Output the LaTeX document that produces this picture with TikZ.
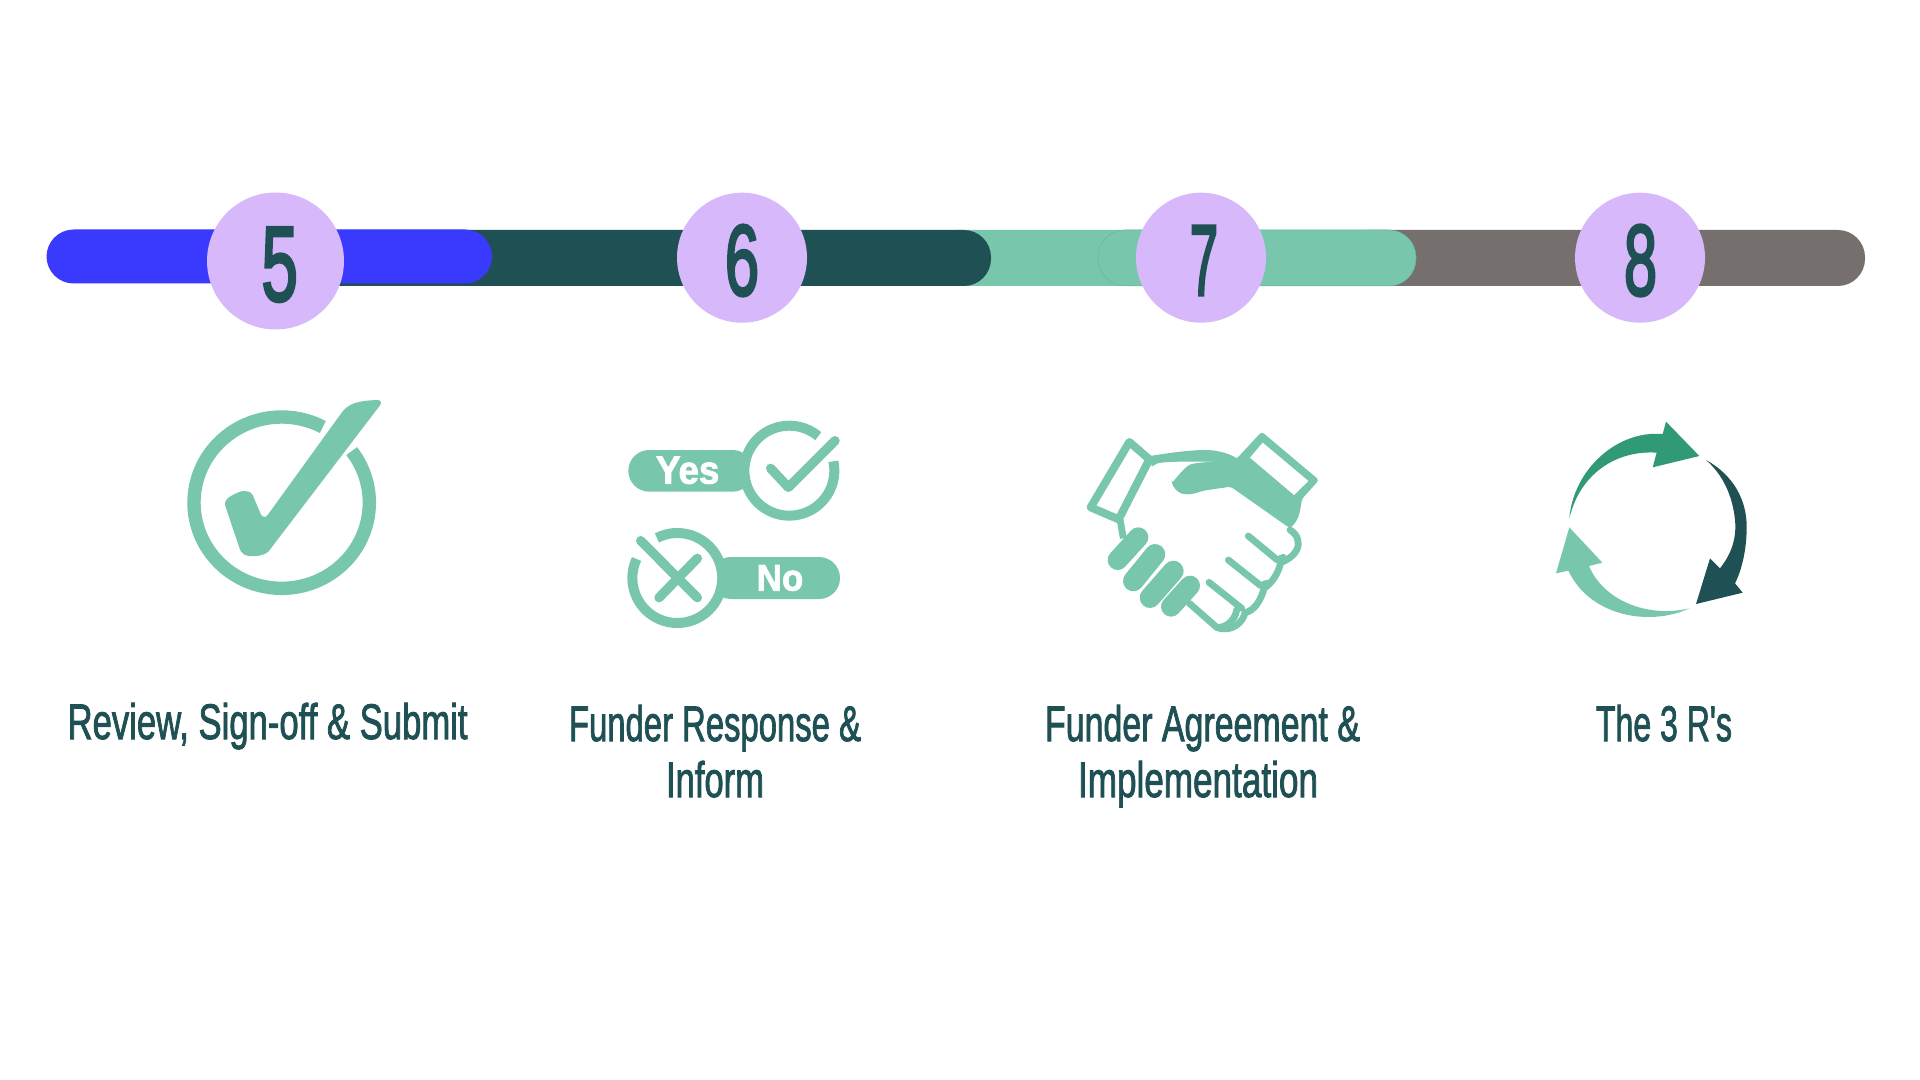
\documentclass[tikz,border=0pt]{standalone}
\usepackage{fontspec}
\usepackage{graphicx}
\setmainfont{Liberation Sans}
\newfontfamily\labelfont[FakeBold=2]{Liberation Sans}
\newfontfamily\digitfont[FakeBold=3.2]{Liberation Sans}
\newfontfamily\pillfont[FakeBold=2]{Liberation Sans Bold}
\definecolor{dkteal}{HTML}{1F5054}
\definecolor{mint}{HTML}{78C7AC}
\definecolor{mintedge}{HTML}{68B59B}
\definecolor{lilac}{HTML}{D7B9FB}
\definecolor{vivid}{HTML}{3A3AFF}
\definecolor{stone}{HTML}{75706E}
\definecolor{midgreen}{HTML}{2F9A75}
\newcommand\fitbox[3]{\resizebox*{#1pt}{#2pt}{#3}}
\newcommand\fitw[2]{\resizebox{#1pt}{\height}{#2}}
\tikzset{
  crop/.style={x=0.166667pt,y=-0.166667pt},
  barpill/.style={rounded corners=13.6pt},
  badge/.style={fill=lilac},
  digit/.style={inner sep=0pt,text=dkteal,font=\digitfont},
  lab/.style={inner sep=0pt,text=dkteal,align=center,anchor=base,font=\labelfont\fontsize{25}{28}\selectfont},
  pilltext/.style={inner sep=0pt,text=white,font=\pillfont},
  handline/.style={mint,line width=3.4pt,line cap=round,line join=round},
}
\begin{document}
\begin{tikzpicture}[x=0.5pt,y=-0.5pt]
\useasboundingbox (0,0) rectangle (1920,1080);
\fill[white] (0,0) rectangle (1920,1080);

% bars
\fill[stone,barpill] (1340,230) rectangle (1865,286);
\fill[mint,barpill] (930,230) rectangle (1200,286);
\fill[mint,barpill,draw=mintedge,line width=0.25pt] (1098,230) rectangle (1416,286);
\fill[dkteal,barpill] (300,230) rectangle (991,286);
\fill[vivid,barpill] (46.5,229.5) rectangle (492,283.5);

% badges
\fill[badge] (275.5,261) circle[radius=68.5];
\fill[badge] (742,257.7) circle[radius=65];
\fill[badge] (1201,257.7) circle[radius=65];
\fill[badge] (1640,257.7) circle[radius=65];
\node[digit] (d5) at (279.7,264.7) {\fitbox{18.2}{37}{5}};
\node[digit] (d6) at (742,260.5) {\fitbox{17.1}{35.5}{6}};
\node[digit] (d7) at (1204,260.5) {\fitbox{14.2}{34.5}{7}};
\node[digit] (d8) at (1640.5,260.5) {\fitbox{16.5}{35.5}{8}};

% check icon
\begin{scope}[shift={(170,390)},crop]
\draw[mint,line width=6.7pt] ([shift={(-37:263 and 257)}]335,338) arc[start angle=-37,end angle=298,x radius=263,y radius=257];
\fill[mint] (165,345) .. controls (163,330) and (175,322) .. (190,314)
  .. controls (210,303) and (235,295) .. (248,315) -- (272,372)
  .. controls (277,382) and (287,384) .. (293,375) -- (515,68)
  .. controls (535,40) and (565,32) .. (622,30)
  .. controls (632,30) and (636,38) .. (630,46) -- (305,472)
  .. controls (295,490) and (280,497) .. (255,498)
  .. controls (225,500) and (215,495) .. (207,470) -- cycle;
\end{scope}

% yes / no icon
\begin{scope}[shift={(620,410)},crop]
\fill[mint,rounded corners=10.4pt] (25,120) rectangle (400,245);
\fill[white] (507,182) circle[radius=120];
\draw[mint,line width=5pt] ([shift={(-12:135)}]508,182) arc[start angle=-12,end angle=310,radius=135];
\draw[mint,line width=4.7pt,line cap=round,line join=round] (452,175) -- (505,232) -- (645,92);
\node[pilltext] (yes) at (203,181) {\fitbox{31.7}{13.7}{Yes}};
\fill[mint,rounded corners=10.5pt] (270,441) rectangle (660,567);
\fill[white] (172,504) circle[radius=120];
\draw[mint,line width=5pt] ([shift={(243:135)}]172,504) arc[start angle=243,end angle=565,radius=135];
\draw[mint,line width=4.7pt,line cap=round] (62,392) -- (232,563);
\draw[mint,line width=4.7pt,line cap=round] (232,445) -- (117,563);
\node[pilltext] (no) at (480,504) {\fitbox{23.3}{13}{No}};
\end{scope}

% handshake icon
\begin{scope}[shift={(1070,420)},crop]
\draw[mint,line width=4pt,line join=round] (178,66) -- (238,118) -- (146,298) -- (62,262) -- cycle;
\draw[mint,line width=3.4pt] (150,298) -- (160,355);
\fill[mint] (240,108) .. controls (320,95) and (400,85) .. (440,93)
  .. controls (470,98) and (490,108) .. (505,118) -- (445,124)
  .. controls (400,126) and (300,122) .. (262,130) -- (245,140) -- cycle;
\fill[mint,rounded corners=1.5pt] (305,190) .. controls (330,160) and (350,135) .. (375,130)
  -- (445,122) -- (500,116) -- (575,35) -- (747,180) -- (695,238)
  .. controls (690,280) and (685,300) .. (660,325) -- (482,200) -- (400,212)
  .. controls (370,222) and (330,235) .. (305,190) -- cycle;
\fill[white] (578,68) -- (715,183) -- (672,225) -- (540,113) -- cycle;
\draw[handline]
  (660,330) .. controls (685,345) and (690,370) .. (680,390)
  .. controls (670,410) and (650,420) .. (632,428)
  .. controls (625,460) and (605,490) .. (582,505)
  .. controls (575,535) and (555,572) .. (525,578)
  .. controls (520,605) and (485,640) .. (440,622) -- (358,550);
\draw[handline] (535,348) -- (622,420) -- (640,412);
\draw[handline] (475,420) -- (572,497) -- (590,490);
\draw[handline] (417,487) -- (515,565);
\draw[handline] (445,622) .. controls (470,622) and (495,600) .. (500,570);
\draw[mint,line width=10pt,line cap=round] (205,352) -- (143,420);
\draw[mint,line width=10.3pt,line cap=round] (255,403) -- (190,483);
\draw[mint,line width=10.3pt,line cap=round] (310,453) -- (240,533);
\draw[mint,line width=10pt,line cap=round] (360,497) -- (303,560);
\end{scope}

% cycle icon
\begin{scope}[shift={(1540,410)},crop]
\fill[midgreen] (88,325) .. controls (100,180) and (230,60) .. (368,72) -- (378,35) -- (478,138) -- (338,172) -- (350,128) .. controls (230,120) and (120,190) .. cycle;
\fill[dkteal] (498,150) .. controls (580,195) and (620,270) .. (620,350) .. controls (620,420) and (605,480) .. (585,520) -- (608,548) -- (468,582) -- (510,445) -- (540,475) .. controls (575,430) and (590,385) .. (585,330) .. controls (578,260) and (550,195) .. cycle;
\fill[mint] (448,595) .. controls (330,650) and (150,620) .. (85,482) -- (48,490) -- (88,352) -- (187,458) -- (147,468) .. controls (190,570) and (320,625) .. cycle;
\end{scope}

% labels
\node[lab] (l5) at (267.6,739) {\fitw{200}{Review, Sign-off \& Submit}};
\node[lab] (l6) at (715,797) {\fitw{146}{Funder Response \&}\\\fitw{49}{Inform}};
\node[lab] (l7) at (1202.5,797) {\fitw{157.5}{Funder Agreement \&}\\\fitw{120}{Implementation}\hspace*{4.5pt}};
\node[lab] (l8) at (1664,741) {\fitw{68}{The 3 R's}};
\end{tikzpicture}
\end{document}
